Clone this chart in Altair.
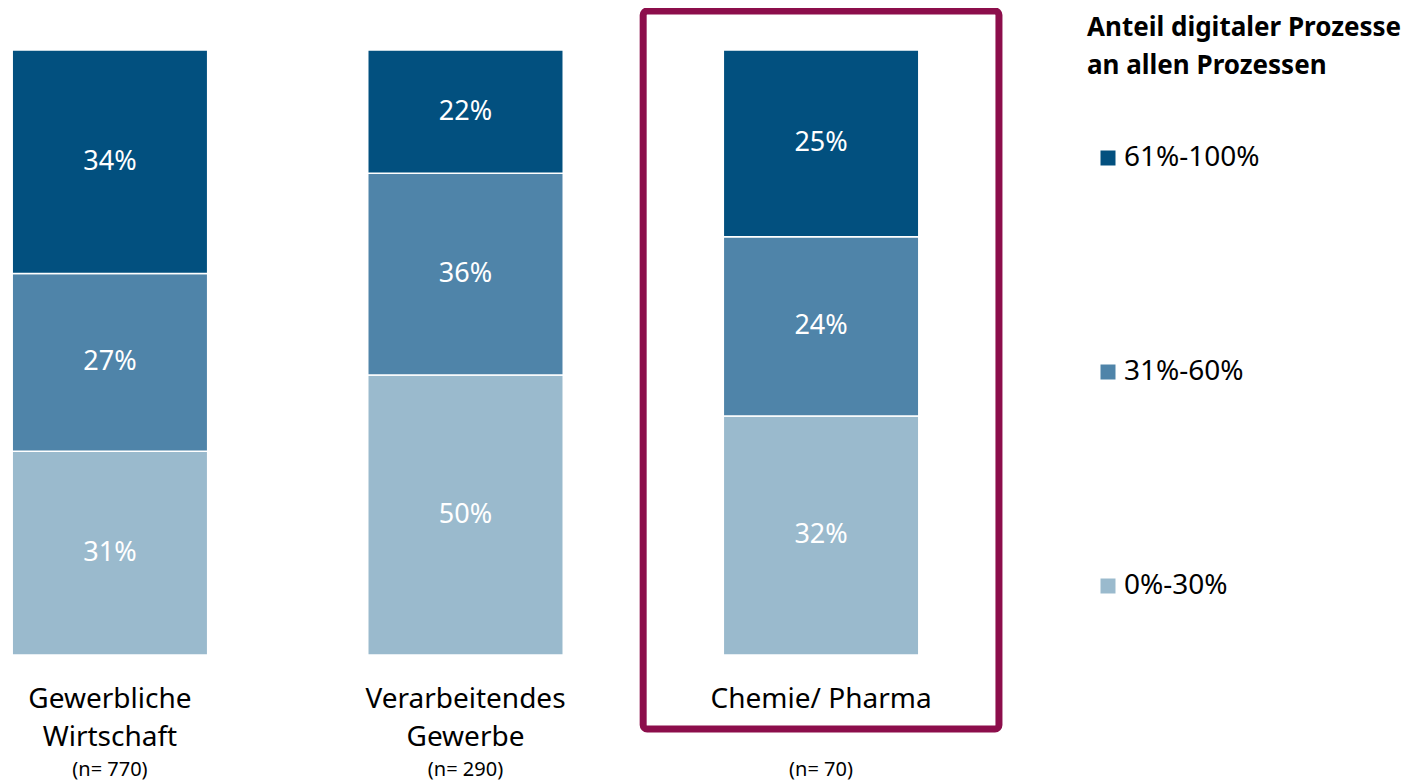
import altair as alt
import pandas as pd

categories = ["Gewerbliche Wirtschaft", "Verarbeitendes Gewerbe", "Chemie/ Pharma"]
cat_lines = ["Gewerbliche\nWirtschaft", "Verarbeitendes\nGewerbe", "Chemie/ Pharma"]
n_labels = ["(n= 770)", "(n= 290)", "(n= 70)"]
groups = ["61%-100%", "31%-60%", "0%-30%"]
vals_high = [34, 22, 25]
vals_mid = [27, 36, 24]
vals_low = [31, 50, 32]
colors = ["#02507F", "#4F84A9", "#9ABACD"]
highlight = "Chemie/ Pharma"
legend_title = ["Anteil digitaler Prozesse", "an allen Prozessen"]

FONT = "Noto Sans"

rows = []
for i, c in enumerate(categories):
    for g, vals, order in [(groups[2], vals_low, 0), (groups[1], vals_mid, 1), (groups[0], vals_high, 2)]:
        rows.append({"cat": c, "group": g, "value": vals[i], "order": order, "label": f"{vals[i]}%"})
df = pd.DataFrame(rows)
df_cat = pd.DataFrame({"cat": categories, "lab": cat_lines, "n": n_labels})
df_hl = pd.DataFrame({"cat": [highlight]})

x = alt.X("cat:N", sort=categories,
          scale=alt.Scale(domain=categories, paddingInner=0.4502, paddingOuter=0.0118),
          axis=None)

base = alt.Chart(df).transform_stack(
    stack="value", groupby=["cat"], as_=["y0", "y1"],
    sort=[alt.SortField("order", order="ascending")], offset="normalize")

bars = base.mark_bar(stroke="white", strokeWidth=1.5).encode(
    x=x,
    y=alt.Y("y0:Q", scale=alt.Scale(domain=[0, 1], nice=False, zero=False), axis=None),
    y2="y1:Q",
    color=alt.Color("group:N", scale=alt.Scale(domain=groups, range=colors),
                    legend=alt.Legend(
                        title=legend_title, orient="none", legendX=1079, legendY=-35,
                        titleFont=FONT, titleFontSize=26, titleFontWeight="bold",
                        titleLineHeight=38, titleColor="black", titleLimit=600,
                        titlePadding=65,
                        labelFont=FONT, labelFontSize=28, labelColor="black", labelLimit=400,
                        symbolType="square", symbolSize=225, symbolStrokeWidth=0,
                        symbolOffset=7, labelOffset=2, rowPadding=186, padding=0)),
)

pct = base.transform_calculate(mid="(datum.y0 + datum.y1) / 2").mark_text(
    color="white", fontSize=27, font=FONT, baseline="middle").encode(
    x=x, y=alt.Y("mid:Q"), text="label:N")

cat_text = alt.Chart(df_cat).mark_text(
    baseline="alphabetic", fontSize=28, font=FONT, lineBreak="\n", lineHeight=38,
    color="black").encode(x=x, y=alt.value(658), text="lab:N")

n_text = alt.Chart(df_cat).mark_text(
    baseline="alphabetic", fontSize=20, font=FONT, color="black").encode(
    x=x, y=alt.value(726), text="n:N")

box = alt.Chart(df_hl).mark_bar(
    width={"band": 1.82}, fillOpacity=0, stroke="#8C0E4B", strokeWidth=7,
    cornerRadius=4).encode(x=x, y=alt.value(-39), y2=alt.value(679))

chart = alt.layer(bars, pct, cat_text, n_text, box).properties(
    width=915, height=605,
    autosize=alt.AutoSizeParams(type="none"),
    padding={"left": 0, "top": 42, "right": 494, "bottom": 126},
).configure(font=FONT).configure_view(stroke=None)

chart.save("out.html", embed_options={"renderer": "svg", "actions": False})
